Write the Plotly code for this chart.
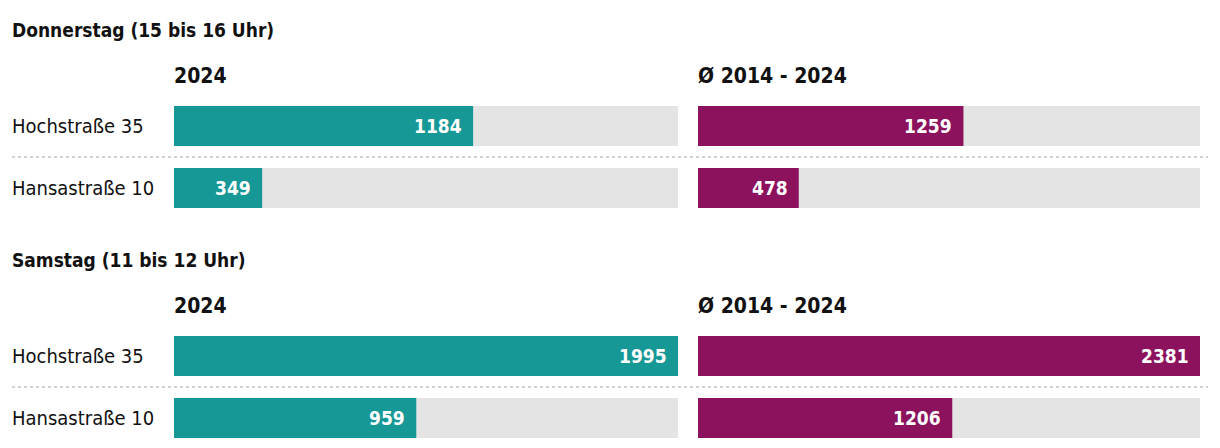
import plotly.graph_objects as go

W, H = 1220, 448

groups = ["Donnerstag (15 bis 16 Uhr)", "Samstag (11 bis 12 Uhr)"]
columns = ["2024", "Ø 2014 - 2024"]
locations = ["Hochstraße 35", "Hansastraße 10"]
# values[group][column][location]
thu_2024 = [1184, 349]
thu_avg = [1259, 478]
sat_2024 = [1995, 959]
sat_avg = [2381, 1206]
values = [[thu_2024, thu_avg], [sat_2024, sat_avg]]

col_colors = ["#169896", "#8c125e"]
bg_color = "#e4e4e4"
FONT = "Liberation Sans Narrow, DejaVu Sans Condensed, Roboto, sans-serif"

# per-column scale maxima
col_max = [max(thu_2024 + sat_2024), max(thu_avg + sat_avg)]

def px_x(p):
    return p / W

def px_y(p):
    return 1 - p / H

x_domains = [[px_x(174), px_x(678)], [px_x(698), px_x(1200)]]
row_gap = 62.0
pad = 0.4
row0_centers = [126, 356]
y_domains = []
for c in row0_centers:
    top = c - pad * row_gap
    bot = c + row_gap + pad * row_gap
    y_domains.append([px_y(bot), px_y(top)])

fig = go.Figure()
annotations = []
shapes = []
layout_axes = {}

idx = 0
for g in range(2):
    for ci in range(2):
        idx += 1
        xa = "x" if idx == 1 else f"x{idx}"
        ya = "y" if idx == 1 else f"y{idx}"
        xname = "xaxis" if idx == 1 else f"xaxis{idx}"
        yname = "yaxis" if idx == 1 else f"yaxis{idx}"
        vals = values[g][ci]
        rows = list(range(len(locations)))
        # background bars
        fig.add_trace(go.Bar(
            x=[col_max[ci]] * len(rows), y=rows, orientation="h",
            marker=dict(color=bg_color, line=dict(width=0)),
            width=40 / row_gap, xaxis=xa, yaxis=ya, hoverinfo="skip",
            showlegend=False))
        fig.add_trace(go.Bar(
            x=vals, y=rows, orientation="h",
            marker=dict(color=col_colors[ci], line=dict(width=0)),
            width=40 / row_gap, xaxis=xa, yaxis=ya,
            hovertemplate="%{x}<extra></extra>", showlegend=False))
        layout_axes[xname] = dict(domain=x_domains[ci], range=[0, col_max[ci]],
                                  visible=False, fixedrange=True)
        layout_axes[yname] = dict(domain=y_domains[g], range=[1 + pad, -pad],
                                  visible=False, fixedrange=True)
        for r, v in enumerate(vals):
            annotations.append(dict(
                x=v, y=r, xref=xa, yref=ya, text=f"<b>{v}</b>",
                xanchor="right", yanchor="middle", xshift=-9, showarrow=False,
                font=dict(family=FONT, size=19, color="white")))
        # column header
        annotations.append(dict(
            x=x_domains[ci][0], y=px_y(row0_centers[g] - 50), xref="paper", yref="paper",
            text=f"<b>{columns[ci]}</b>", xanchor="left", yanchor="middle",
            xshift=-2, showarrow=False, font=dict(family=FONT, size=21, color="#111")))
        if ci == 0:
            for r, loc in enumerate(locations):
                annotations.append(dict(
                    x=px_x(10), y=r, xref="paper", yref=ya, text=loc,
                    xanchor="left", yanchor="middle", showarrow=False,
                    font=dict(family=FONT, size=20, color="#111")))
            shapes.append(dict(
                type="line", xref="paper", yref=ya, x0=px_x(12), x1=px_x(1208),
                y0=0.5, y1=0.5, line=dict(color="#d2d2d2", width=2, dash="dot")))
    # group title
    annotations.append(dict(
        x=px_x(10), y=px_y(row0_centers[g] - 96), xref="paper", yref="paper",
        text=f"<b>{groups[g]}</b>", xanchor="left", yanchor="middle",
        showarrow=False, font=dict(family=FONT, size=19, color="#111")))

fig.update_layout(
    width=W, height=H, margin=dict(l=0, r=0, t=0, b=0),
    paper_bgcolor="white", plot_bgcolor="white",
    barmode="overlay", annotations=annotations, shapes=shapes,
    **layout_axes)

fig.write_html("out.html", config={"displayModeBar": False},
               post_script="document.body.style.margin='0';document.body.style.overflow='hidden';")
